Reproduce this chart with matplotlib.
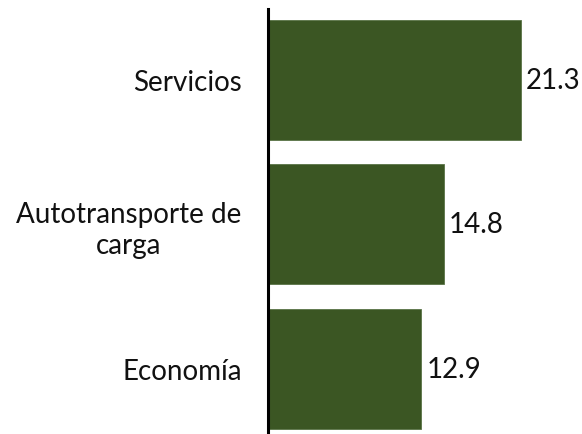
import matplotlib
matplotlib.use("Agg")
import matplotlib.pyplot as plt

categories = ["Servicios", "Autotransporte de\ncarga", "Economía"]
values = [21.3, 14.8, 12.9]
value_labels = ["21.3", "14.8", "12.9"]

plt.rcParams['font.family'] = ['Lato', 'DejaVu Sans']

fig = plt.figure(figsize=(5.82, 4.35), dpi=100)
ax = fig.add_axes([268/582, 0, 1 - 268/582, 1 - 10/435])

pos = list(range(len(categories)))
bars = ax.barh(pos, values, height=0.83, color='#3B5623', edgecolor='#5a7447', linewidth=0.6)
ax.set_xlim(0, 26.45)
ax.set_ylim(2.45, -0.49)

for b, lab in zip(bars, value_labels):
    ax.text(b.get_width() + 0.45, b.get_y() + b.get_height()/2, lab,
            va='center', ha='left', fontsize=20, color='#111111')

ax.set_yticks(pos)
ax.set_yticklabels(categories, fontsize=20, color='#111111', multialignment='center',
                   linespacing=1.25)
ax.tick_params(axis='y', length=0, pad=19)
ax.set_xticks([])
for s in ['top', 'right', 'bottom']:
    ax.spines[s].set_visible(False)
ax.spines['left'].set_linewidth(2.2)
ax.spines['left'].set_color('black')

fig.savefig('out.png', dpi=100)
